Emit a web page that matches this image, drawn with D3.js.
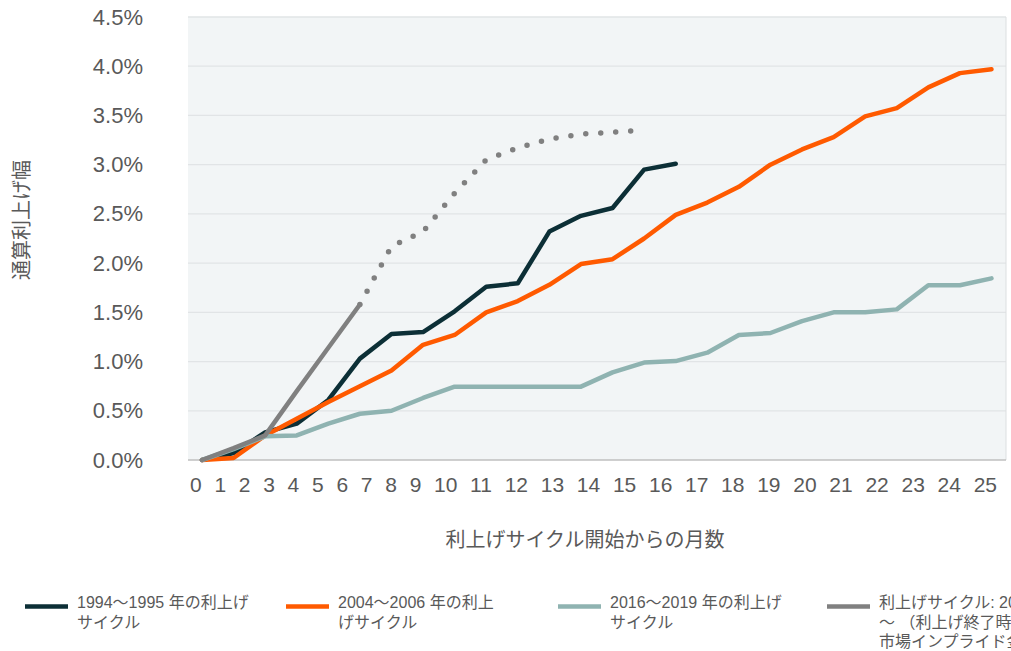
<!DOCTYPE html>
<html>
<head>
<meta charset="utf-8">
<script src="https://cdn.jsdelivr.net/npm/d3@7"></script>
<style>
  body { margin: 0; background: #fff; }
  svg { display: block; }
</style>
</head>
<body>
<div id="chart"></div>
<script>
// months since start of the hiking cycle (category axis)
const months = [0, 1, 2, 3, 4, 5, 6, 7, 8, 9, 10, 11, 12, 13, 14, 15, 16, 17, 18, 19, 20, 21, 22, 23, 24, 25];

// cumulative hikes, in percent
const cycle1994 = [0, 0.07, 0.28, 0.37, 0.61, 1.03, 1.28, 1.30, 1.51, 1.76, 1.795, 2.32, 2.48, 2.56, 2.95, 3.01];
const cycle2004 = [0, 0.02, 0.25, 0.42, 0.59, 0.75, 0.91, 1.17, 1.27, 1.50, 1.615, 1.78, 1.99, 2.04, 2.25, 2.49,
                   2.615, 2.775, 3.00, 3.155, 3.28, 3.49, 3.575, 3.785, 3.93, 3.97];
const cycle2016 = [0, 0.11, 0.24, 0.25, 0.37, 0.47, 0.50, 0.63, 0.745, 0.745, 0.745, 0.745, 0.745, 0.89, 0.99, 1.005,
                   1.09, 1.27, 1.29, 1.41, 1.50, 1.50, 1.53, 1.775, 1.775, 1.845];
const cycle2022 = [0, 0.12, 0.25, 0.70, 1.14, 1.58];
// market implied path (dotted), starts at month 5
const impliedMonths = [5, 6, 7, 8, 9, 10, 11, 12, 13, 14];
const implied2022 = [1.58, 2.17, 2.32, 2.71, 3.05, 3.17, 3.26, 3.31, 3.33, 3.35];

const yTicks = [0, 0.5, 1.0, 1.5, 2.0, 2.5, 3.0, 3.5, 4.0, 4.5];

const legendLabels = [
    ["1994～1995 年の利上げ", "サイクル"],
    ["2004～2006 年の利上", "げサイクル"],
    ["2016～2019 年の利上げ", "サイクル"],
    ["利上げサイクル: 2022 年", "～ （利上げ終了時期の", "市場インプライド金利）"]
];
const colors = ["#0c2f36", "#ff5a00", "#8fb3b1", "#808080"];

const yTitle = "通算利上げ幅";
const xTitle = "利上げサイクル開始からの月数";

// layout
const width = 1011, height = 651;
const plot = { left: 188, right: 1006, top: 17, bottom: 460 };
const textColor = "#595959";
const jpFont = "'Noto Sans CJK JP', 'Noto Sans', sans-serif";
const numFont = "'Liberation Sans', Arial, sans-serif";
const legendFont = "'Liberation Sans', 'Noto Sans CJK JP', sans-serif";

const svg = d3.select("#chart")
    .append("svg")
    .attr("width", width)
    .attr("height", height);

const x = d3.scalePoint()
    .domain(months)
    .range([202, 991.5]);

const y = d3.scaleLinear()
    .domain([0, 4.5])
    .range([plot.bottom, plot.top]);

// plot background
svg.append("rect")
    .attr("x", plot.left)
    .attr("y", plot.top)
    .attr("width", plot.right - plot.left)
    .attr("height", plot.bottom - plot.top)
    .attr("fill", "#f2f5f6");

// gridlines
svg.append("g")
    .selectAll("line")
    .data(yTicks.filter(d => d > 0))
    .enter().append("line")
    .attr("x1", plot.left)
    .attr("x2", plot.right)
    .attr("y1", d => y(d))
    .attr("y2", d => y(d))
    .attr("stroke", "#e1e4e6")
    .attr("stroke-width", 1.3);

// right border and base line
svg.append("line")
    .attr("x1", plot.right).attr("x2", plot.right)
    .attr("y1", plot.top).attr("y2", plot.bottom)
    .attr("stroke", "#dcdfe1").attr("stroke-width", 1);
svg.append("line")
    .attr("x1", plot.left).attr("x2", plot.right)
    .attr("y1", plot.bottom).attr("y2", plot.bottom)
    .attr("stroke", "#bfbfbf").attr("stroke-width", 1.3);

// y axis labels
const yAxis = svg.append("g")
    .attr("transform", "translate(143,0)")
    .call(d3.axisLeft(y).tickValues(yTicks).tickSize(0).tickPadding(0)
        .tickFormat(d => d.toFixed(1) + "%"));
yAxis.select(".domain").remove();
yAxis.selectAll("text")
    .attr("fill", textColor)
    .style("font-family", numFont)
    .style("font-size", "22px");

// x labels: laid out as a run of text, like the original
const xLabels = svg.append("g")
    .selectAll("text")
    .data(months)
    .enter().append("text")
    .attr("y", 492)
    .attr("text-anchor", "start")
    .attr("fill", textColor)
    .style("font-family", numFont)
    .style("font-size", "21px")
    .text(d => d);

const widths = [];
xLabels.each(function () { widths.push(this.getComputedTextLength()); });
const runStart = 190, runEnd = 997;
const gap = (runEnd - runStart - d3.sum(widths)) / (months.length - 1);
let cursor = runStart;
xLabels.attr("x", (d, i) => {
    const pos = cursor;
    cursor += widths[i] + gap;
    return pos;
});

// axis titles
svg.append("text")
    .attr("transform", "translate(29,220) rotate(-90)")
    .attr("text-anchor", "middle")
    .attr("fill", textColor)
    .style("font-family", jpFont)
    .style("font-size", "20px")
    .text(yTitle);

svg.append("text")
    .attr("x", 585)
    .attr("y", 547)
    .attr("text-anchor", "middle")
    .attr("fill", textColor)
    .style("font-family", jpFont)
    .style("font-size", "20px")
    .text(xTitle);

// series
const line = d3.line()
    .x(d => x(d[0]))
    .y(d => y(d[1]));

const series = [cycle1994, cycle2004, cycle2016, cycle2022];
series.forEach((values, i) => {
    svg.append("path")
        .datum(values.map((v, j) => [months[j], v]))
        .attr("d", line)
        .attr("fill", "none")
        .attr("stroke", colors[i])
        .attr("stroke-width", 4.5)
        .attr("stroke-linejoin", "round")
        .attr("stroke-linecap", "round");
});

svg.append("path")
    .datum(implied2022.map((v, j) => [impliedMonths[j], v]))
    .attr("d", line)
    .attr("fill", "none")
    .attr("stroke", colors[3])
    .attr("stroke-width", 5.5)
    .attr("stroke-linecap", "round")
    .attr("stroke-dasharray", "0 15");

// legend
const legendX = [25, 286, 558, 827];
const legend = svg.append("g")
    .selectAll("g")
    .data(legendLabels)
    .enter().append("g")
    .attr("transform", (d, i) => `translate(${legendX[i]},0)`);

legend.append("line")
    .attr("x1", 0).attr("x2", 43)
    .attr("y1", 606.5).attr("y2", 606.5)
    .attr("stroke", (d, i) => colors[i])
    .attr("stroke-width", 4.5);

legend.append("text")
    .attr("fill", textColor)
    .style("font-family", legendFont)
    .style("font-size", "16px")
    .selectAll("tspan")
    .data(d => d)
    .enter().append("tspan")
    .attr("x", 52)
    .attr("y", (d, i) => 608 + i * 19.5)
    .text(d => d);
</script>
</body>
</html>
